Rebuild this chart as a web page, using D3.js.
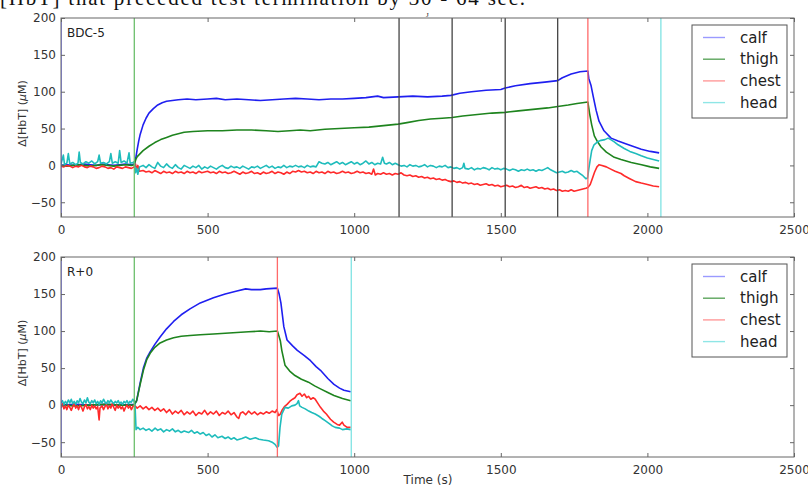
<!DOCTYPE html>
<html>
<head>
<meta charset="utf-8">
<script src="https://cdn.jsdelivr.net/npm/d3@7"></script>
<style>
  body { margin: 0; background: #fff; }
  svg { display: block; }
</style>
</head>
<body>
<svg width="808" height="488"></svg>
<script>
// Panel 1 (BDC-5) series, [time s, value uM]
const calf1 = [[0,0],[20,1],[40,0],[60,1],[80,2],[100,1],[120,0],[140,2],[160,1],[180,0],[200,1],[220,2],[240,1],[250,2],[255,10],[260,22],[265,33],[270,42],[280,55],[290,64],[300,71],[315,77],[330,82],[345,85],[360,87],[380,88],[400,89],[430,90],[460,89],[500,90],[530,91],[560,89],[600,90],[640,89],[680,88],[720,89],[760,90],[800,91],[840,90],[880,89],[920,90],[960,90],[1000,91],[1040,92],[1080,94],[1100,92],[1150,93],[1200,94],[1250,93],[1300,94],[1330,95],[1360,98],[1400,100],[1450,102],[1500,103],[1515,105],[1550,108],[1600,111],[1650,113],[1694,115],[1710,119],[1740,124],[1770,127],[1797,128],[1800,118],[1808,108],[1815,94],[1825,75],[1835,60],[1852,47],[1876,37],[1900,33],[1921,30],[1950,26],[1979,22],[2010,19],[2040,17]];
const thigh1 = [[0,0],[20,-1],[40,0],[60,1],[80,0],[100,-1],[120,0],[140,1],[160,0],[180,-1],[200,0],[220,1],[240,0],[250,1],[255,8],[260,12],[270,16],[280,20],[300,26],[320,31],[340,35],[360,38],[380,41],[400,43],[420,45],[450,46],[500,47],[550,47],[600,48],[650,48],[700,47],[740,46],[780,47],[816,48],[850,47],[900,49],[950,50],[1000,51],[1050,52],[1100,54],[1150,56],[1180,58],[1220,61],[1260,63],[1300,64],[1334,65],[1370,67],[1420,69],[1470,71],[1515,72],[1560,74],[1610,76],[1660,78],[1694,80],[1730,82],[1760,84],[1797,86],[1803,70],[1810,55],[1819,40],[1830,32],[1842,25],[1860,18],[1887,11],[1910,8],[1945,4],[1980,1],[2010,-2],[2040,-4]];
const chest1 = [[0,-1],[10,-2],[20,0],[30,-1],[40,-3],[50,-1],[60,-2],[70,0],[80,-2],[90,-3],[100,-1],[110,-2],[120,-4],[130,-3],[140,-1],[150,-2],[160,-4],[170,-3],[180,-5],[190,-2],[200,-3],[210,-4],[220,-2],[230,-3],[240,-4],[250,-2],[254,2],[258,-6],[262,0],[268,-8],[280,-7],[290,-9],[300,-8],[310,-10],[320,-7],[330,-9],[340,-11],[350,-8],[360,-10],[370,-9],[380,-11],[390,-8],[400,-10],[410,-9],[420,-11],[430,-8],[440,-10],[450,-9],[460,-11],[470,-8],[480,-10],[490,-9],[500,-8],[510,-10],[520,-9],[530,-11],[540,-8],[550,-10],[560,-9],[570,-11],[580,-10],[590,-8],[600,-10],[610,-12],[620,-9],[630,-11],[640,-10],[650,-8],[660,-11],[670,-10],[680,-12],[690,-9],[700,-11],[710,-10],[720,-8],[730,-11],[740,-9],[750,-10],[760,-12],[770,-9],[780,-11],[790,-8],[800,-9],[810,-7],[820,-9],[830,-8],[840,-10],[850,-9],[860,-11],[870,-8],[880,-10],[890,-9],[900,-11],[910,-8],[920,-10],[930,-9],[940,-11],[950,-10],[960,-8],[970,-10],[980,-9],[990,-11],[1000,-10],[1010,-8],[1020,-10],[1030,-9],[1040,-11],[1050,-10],[1060,-12],[1066,-5],[1072,-13],[1080,-11],[1090,-12],[1100,-10],[1110,-12],[1120,-11],[1130,-13],[1140,-11],[1150,-12],[1160,-10],[1170,-13],[1180,-14],[1190,-13],[1200,-15],[1210,-14],[1220,-16],[1230,-15],[1240,-17],[1250,-16],[1260,-18],[1270,-17],[1280,-19],[1290,-18],[1300,-20],[1310,-19],[1320,-21],[1330,-22],[1340,-21],[1350,-23],[1360,-22],[1370,-24],[1380,-23],[1390,-25],[1400,-24],[1410,-26],[1420,-25],[1430,-27],[1440,-26],[1450,-25],[1460,-27],[1470,-26],[1480,-28],[1490,-27],[1500,-29],[1510,-28],[1520,-27],[1530,-29],[1540,-28],[1550,-30],[1560,-29],[1570,-27],[1580,-30],[1590,-29],[1600,-31],[1610,-30],[1620,-29],[1630,-31],[1640,-30],[1650,-32],[1660,-31],[1670,-33],[1680,-32],[1690,-34],[1700,-33],[1710,-35],[1720,-34],[1730,-35],[1740,-33],[1750,-35],[1760,-34],[1770,-33],[1780,-32],[1790,-31],[1797,-30],[1805,-26],[1812,-18],[1820,-9],[1828,-2],[1835,1],[1845,0],[1860,-2],[1875,-5],[1890,-8],[1910,-11],[1921,-14],[1940,-18],[1960,-22],[1979,-24],[2000,-26],[2020,-28],[2040,-29]];
const head1 = [[0,2],[8,14],[12,1],[20,3],[25,16],[30,2],[40,4],[50,1],[58,3],[62,18],[66,4],[75,2],[85,5],[95,3],[105,6],[115,2],[125,5],[130,14],[135,3],[145,4],[155,2],[165,5],[170,16],[175,3],[185,5],[195,3],[200,20],[205,4],[215,6],[225,3],[232,17],[236,3],[245,4],[250,5],[254,-10],[258,-4],[262,-12],[268,-2],[280,0],[290,-3],[300,1],[310,-2],[320,-4],[330,4],[340,-1],[350,-3],[360,2],[370,-2],[380,-4],[390,1],[400,-3],[410,-5],[420,0],[430,-2],[440,-4],[450,-1],[460,-3],[470,0],[480,-5],[490,-2],[500,-4],[510,-1],[520,-3],[530,-5],[540,-2],[550,0],[560,-3],[570,-4],[580,-1],[590,-3],[600,-2],[610,-4],[620,-1],[630,-3],[640,-5],[650,-2],[660,-3],[670,-1],[680,-4],[690,-2],[700,0],[710,-3],[720,-1],[730,-4],[740,-2],[750,-3],[760,0],[770,-3],[780,-1],[790,-2],[800,0],[810,-2],[820,-1],[830,-3],[840,0],[850,-2],[860,-1],[870,-2],[880,5],[890,3],[900,2],[910,4],[920,1],[930,3],[940,5],[950,2],[960,4],[970,1],[980,3],[990,5],[1000,2],[1010,4],[1020,1],[1030,3],[1040,6],[1050,2],[1060,4],[1070,1],[1080,3],[1090,2],[1097,11],[1103,3],[1110,2],[1120,4],[1130,1],[1140,3],[1150,1],[1160,-1],[1170,0],[1180,-2],[1190,1],[1200,-1],[1210,0],[1220,-2],[1230,-1],[1240,1],[1250,-2],[1260,0],[1270,-1],[1280,-3],[1290,-1],[1300,-2],[1310,0],[1320,-3],[1330,-2],[1340,-4],[1350,-3],[1360,-5],[1370,-3],[1374,3],[1378,-4],[1390,-5],[1400,-3],[1410,-6],[1420,-4],[1430,-5],[1440,-3],[1450,-4],[1460,-6],[1470,-3],[1480,-5],[1490,-4],[1500,-6],[1510,-4],[1520,-5],[1530,-7],[1540,-5],[1550,-6],[1560,-8],[1570,-6],[1580,-7],[1590,-5],[1600,-7],[1610,-6],[1620,-8],[1630,-6],[1640,-7],[1650,-5],[1660,-3],[1670,-6],[1680,-8],[1690,-10],[1700,-9],[1710,-8],[1720,-10],[1730,-9],[1740,-7],[1750,-9],[1760,-8],[1770,-11],[1780,-14],[1790,-18],[1796,-17],[1800,-5],[1805,8],[1810,20],[1818,28],[1830,32],[1842,34],[1855,35],[1866,37],[1875,35],[1887,32],[1900,28],[1921,23],[1940,19],[1960,16],[1979,13],[2000,10],[2020,8],[2040,6]];

// Panel 2 (R+0) series
const calf2 = [[0,0],[50,1],[100,0],[150,1],[200,0],[250,1],[258,6],[270,30],[281,50],[292,63],[304,72],[320,82],[338,92],[360,103],[384,113],[410,122],[440,130],[475,138],[520,145],[560,150],[600,154],[630,157],[650,156],[680,156],[700,157],[738,158],[744,150],[750,138],[760,106],[771,88],[790,80],[806,74],[830,67],[851,60],[870,52],[885,47],[910,36],[931,28],[950,23],[965,20],[988,18]];
const thigh2 = [[0,0],[50,-1],[100,0],[150,1],[200,0],[250,0],[258,6],[270,28],[281,47],[292,61],[304,70],[320,78],[338,84],[360,88],[384,91],[410,93],[440,94],[475,95],[520,96],[560,97],[600,98],[640,99],[680,100],[710,99],[738,100],[742,95],[748,87],[753,74],[764,54],[780,46],[798,40],[820,35],[844,31],[865,26],[885,22],[910,17],[931,13],[960,9],[988,6]];
const chest2 = [[0,-4],[5,2],[10,-5],[15,-1],[20,-6],[25,0],[30,-3],[35,-7],[40,-2],[45,3],[50,-4],[55,-1],[60,-6],[65,0],[70,-3],[75,-8],[80,-2],[85,1],[90,-5],[95,-2],[100,-6],[105,0],[110,-4],[115,-1],[120,-5],[125,-2],[130,-20],[133,-4],[140,-1],[145,-6],[150,-2],[155,1],[160,-5],[165,-1],[170,-4],[175,2],[180,-3],[185,-7],[190,0],[195,-4],[200,-1],[205,-5],[210,-2],[215,-8],[220,-3],[225,0],[230,-4],[235,-1],[240,-6],[245,-2],[250,0],[255,-2],[260,-4],[270,-1],[280,-5],[290,-2],[300,-6],[310,-3],[320,-7],[330,-4],[340,-8],[350,-5],[360,-10],[370,-6],[380,-12],[390,-8],[400,-11],[410,-7],[420,-13],[430,-9],[440,-12],[450,-8],[460,-14],[470,-10],[480,-12],[490,-7],[500,-13],[510,-9],[520,-12],[530,-8],[540,-14],[550,-10],[560,-12],[570,-8],[580,-13],[590,-10],[600,-16],[606,-18],[612,-11],[620,-9],[630,-13],[640,-8],[650,-12],[660,-9],[670,-13],[680,-10],[690,-12],[700,-9],[710,-11],[720,-8],[730,-10],[736,-6],[742,-14],[748,-12],[755,-6],[762,-2],[771,1],[780,5],[790,8],[798,10],[805,14],[815,16],[822,12],[830,15],[838,10],[844,12],[852,8],[860,10],[867,8],[875,3],[885,-3],[895,-8],[905,-12],[919,-19],[930,-23],[942,-26],[950,-27],[959,-23],[965,-27],[976,-30],[988,-30]];
const head2 = [[0,3],[5,6],[10,1],[15,5],[20,2],[25,7],[30,3],[35,8],[40,2],[45,5],[50,1],[55,6],[60,3],[65,9],[70,4],[75,2],[80,7],[85,3],[90,10],[95,4],[100,2],[105,6],[110,3],[115,7],[120,2],[125,5],[130,1],[135,6],[140,3],[145,8],[150,4],[155,2],[160,6],[165,3],[170,7],[175,4],[180,2],[185,5],[190,3],[195,6],[200,2],[205,4],[210,1],[215,5],[220,3],[225,6],[230,2],[235,5],[240,4],[245,8],[250,5],[253,-5],[256,-33],[262,-30],[270,-33],[280,-31],[290,-34],[300,-32],[310,-35],[321,-31],[330,-34],[340,-32],[350,-36],[360,-33],[370,-35],[380,-32],[390,-36],[400,-34],[410,-37],[420,-35],[435,-37],[445,-34],[455,-38],[465,-36],[475,-39],[485,-37],[495,-41],[505,-39],[515,-43],[525,-40],[535,-44],[549,-42],[560,-45],[570,-43],[580,-46],[590,-44],[600,-47],[617,-45],[630,-43],[645,-46],[663,-44],[675,-46],[690,-47],[708,-48],[720,-50],[730,-53],[737,-57],[742,-55],[747,-30],[753,-12],[764,-3],[775,-4],[787,-1],[798,0],[805,2],[810,6],[814,-1],[822,-3],[833,-5],[845,-8],[855,-10],[867,-12],[880,-15],[890,-18],[901,-21],[915,-25],[925,-28],[935,-30],[950,-31],[960,-33],[975,-32],[988,-33]];

// event markers (time, colour key)
const marks1 = [[0,"b"],[250,"g"],[1153,"k"],[1334,"k"],[1515,"k"],[1694,"k"],[1797,"r"],[2046,"c"]];
const marks2 = [[0,"b"],[250,"g"],[738,"r"],[990,"c"]];

const names = ["calf", "thigh", "chest", "head"];
const xTicks = [0, 500, 1000, 1500, 2000, 2500];
const yTicks = [-50, 0, 50, 100, 150, 200];

const lineColor = {calf: "#1f1ff0", thigh: "#1e841e", chest: "#ff2a2a", head: "#1fbcbc"};
const markColor = {b: "#5555ff", g: "#6cbf6c", r: "#ff6a6a", c: "#7fe3e3", k: "#444"};
const legColor = {calf: "#9a9aff", thigh: "#5da55d", chest: "#ff9a9a", head: "#8fe6e6"};

const svg = d3.select("svg");
const font = "'DejaVu Sans', sans-serif";

// clipped caption line from the page above the figure
svg.append("text")
  .attr("x", 0).attr("y", 5)
  .attr("font-family", "'Liberation Serif', serif")
  .attr("font-size", 21)
  .attr("textLength", 525)
  .attr("fill", "#111")
  .text("[HbT] that preceded test termination by 30 - 64 sec.");
svg.append("text")
  .attr("x", 426).attr("y", 17)
  .attr("font-family", "'Liberation Serif', serif")
  .attr("font-size", 7).attr("fill", "#222")
  .text("J");

const x = d3.scaleLinear().domain([0, 2500]).range([61, 794]);

function drawPanel(top, bottom, label, series, marks, id) {
  const y = d3.scaleLinear().domain([-70, 200]).range([bottom, top]);
  const g = svg.append("g");

  g.append("clipPath").attr("id", "clip" + id)
    .append("rect")
    .attr("x", x(0)).attr("y", top)
    .attr("width", x(2500) - x(0)).attr("height", bottom - top);

  const line = d3.line().x(d => x(d[0])).y(d => y(d[1]));

  const plot = g.append("g").attr("clip-path", `url(#clip${id})`);
  names.forEach((n, i) => {
    plot.append("path")
      .datum(series[i])
      .attr("d", line)
      .attr("fill", "none")
      .attr("stroke", lineColor[n])
      .attr("stroke-width", 1.6)
      .attr("stroke-linejoin", "round");
  });

  // vertical event lines
  plot.selectAll(".mark")
    .data(marks)
    .enter().append("line")
    .attr("x1", d => x(d[0])).attr("x2", d => x(d[0]))
    .attr("y1", top).attr("y2", bottom)
    .attr("stroke", d => markColor[d[1]])
    .attr("stroke-width", 1.3);

  // axes, ticks inside on all sides
  const axB = g.append("g").attr("transform", `translate(0,${bottom})`)
    .call(d3.axisBottom(x).tickValues(xTicks).tickSizeInner(-4).tickSizeOuter(0).tickPadding(6)
      .tickFormat(d => String(d)));
  const axT = g.append("g").attr("transform", `translate(0,${top})`)
    .call(d3.axisTop(x).tickValues(xTicks).tickSizeInner(-4).tickSizeOuter(0).tickFormat(""));
  const axL = g.append("g").attr("transform", `translate(${x(0)},0)`)
    .call(d3.axisLeft(y).tickValues(yTicks).tickSizeInner(-4).tickSizeOuter(0).tickPadding(5)
      .tickFormat(d => d < 0 ? "\u2212" + Math.abs(d) : String(d)));
  const axR = g.append("g").attr("transform", `translate(${x(2500)},0)`)
    .call(d3.axisRight(y).tickValues(yTicks).tickSizeInner(-4).tickSizeOuter(0).tickFormat(""));

  [axB, axT, axL, axR].forEach(a => {
    a.select(".domain").remove();
    a.selectAll("line").attr("stroke", "#666");
    a.selectAll("text").attr("font-family", font).attr("font-size", 12).attr("fill", "#333");
  });
  axB.selectAll("text").attr("dy", "0.9em");

  g.append("rect")
    .attr("x", x(0)).attr("y", top)
    .attr("width", x(2500) - x(0)).attr("height", bottom - top)
    .attr("fill", "none").attr("stroke", "#666").attr("stroke-width", 1);

  g.append("text")
    .attr("x", 67).attr("y", top + 19)
    .attr("font-family", font).attr("font-size", 12).attr("fill", "#222")
    .text(label);

  // y axis title
  const yt = g.append("text")
    .attr("transform", `translate(26,${(top + bottom) / 2 - 4}) rotate(-90)`)
    .attr("text-anchor", "middle")
    .attr("font-family", font).attr("font-size", 11).attr("fill", "#333");
  yt.append("tspan").text("\u0394[HbT] (");
  yt.append("tspan").attr("font-style", "italic").text("\u03bc");
  yt.append("tspan").text("M)");

  // legend
  const lx = 692, ly = top + 7;
  const leg = g.append("g");
  leg.append("rect")
    .attr("x", lx).attr("y", ly).attr("width", 95).attr("height", 93)
    .attr("fill", "#fff").attr("stroke", "#555").attr("stroke-width", 1);
  names.forEach((n, i) => {
    const cy = ly + 12.5 + i * 21.7;
    leg.append("line")
      .attr("x1", lx + 11).attr("x2", lx + 33)
      .attr("y1", cy).attr("y2", cy)
      .attr("stroke", legColor[n]).attr("stroke-width", 1.4);
    leg.append("text")
      .attr("x", lx + 48).attr("y", cy)
      .attr("dy", "0.35em")
      .attr("font-family", font).attr("font-size", 15).attr("fill", "#222")
      .text(n);
  });
}

drawPanel(18, 217, "BDC-5", [calf1, thigh1, chest1, head1], marks1, 1);
drawPanel(257, 457, "R+0", [calf2, thigh2, chest2, head2], marks2, 2);

svg.append("text")
  .attr("x", 428).attr("y", 484)
  .attr("text-anchor", "middle")
  .attr("font-family", font).attr("font-size", 12).attr("fill", "#333")
  .text("Time (s)");
</script>
</body>
</html>
